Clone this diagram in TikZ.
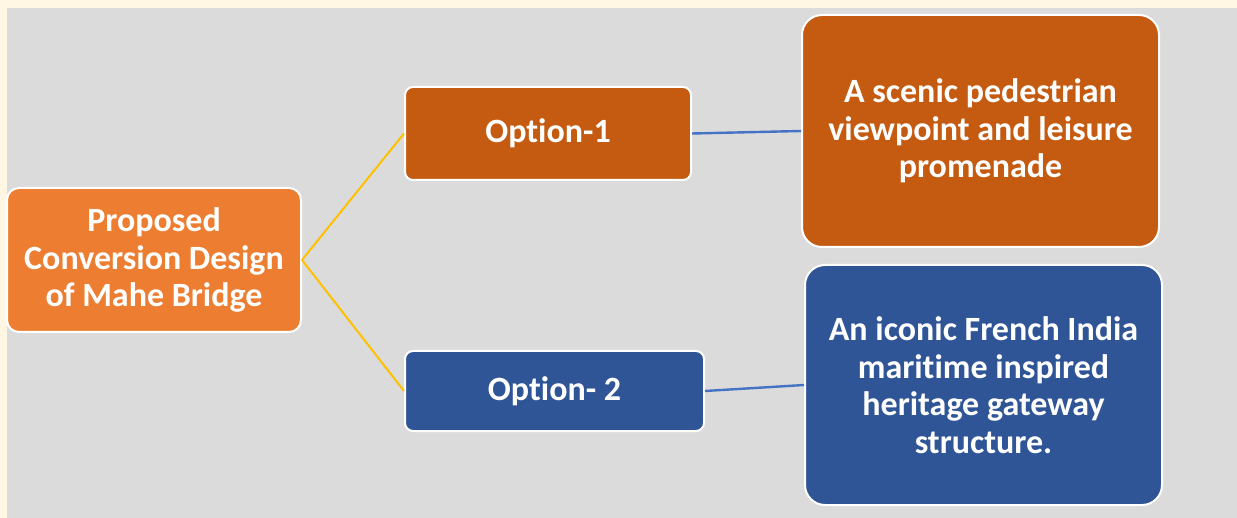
\documentclass[tikz,border=0pt]{standalone}
\usepackage{fontspec}
\setmainfont{Carlito}[Ligatures=NoCommon]
\definecolor{cream}{HTML}{FFF6E3}
\definecolor{panel}{HTML}{DBDBDB}
\definecolor{rootorange}{HTML}{ED7D31}
\definecolor{darkorange}{HTML}{C55A11}
\definecolor{darkblue}{HTML}{2F5597}
\definecolor{linkyellow}{HTML}{FFC000}
\definecolor{linkblue}{HTML}{4472C4}
\tikzset{
  card/.style={draw=white, line width=2pt, text=white, align=center,
    font=\fontsize{34}{37.5}\selectfont\bfseries, inner sep=0pt},
  yellowlink/.style={draw=linkyellow, line width=2pt},
  bluelink/.style={draw=linkblue, line width=2.4pt},
}
\begin{document}
\begin{tikzpicture}[x=1pt,y=-1pt]
  % page and grey panel
  \fill[cream] (0,0) rectangle (1237,518);
  \fill[panel] (7,8) rectangle (1237,518);
  \useasboundingbox (0,0) rectangle (1237,518);

  % boxes
  \node[card, fill=rootorange, rounded corners=12pt, minimum width=294pt, minimum height=144pt]
    (root) at (154,260) {Proposed\\Conversion Design\\of Mahe Bridge};
  \node[card, fill=darkorange, rounded corners=8pt, minimum width=286pt, minimum height=93pt]
    (opt1) at (548,133.5) {Option-1};
  \node[card, fill=darkblue, rounded corners=8pt, minimum width=299pt, minimum height=80pt]
    (opt2) at (554.5,391) {Option- 2};
  \node[card, fill=darkorange, rounded corners=20pt, minimum width=357pt, minimum height=232pt]
    (scenic) at (980.5,131) {A scenic pedestrian\\viewpoint and leisure\\promenade};
  \node[card, fill=darkblue, rounded corners=20pt, minimum width=357pt, minimum height=240pt]
    (iconic) at (983.5,385) {An iconic French India\\maritime inspired\\heritage gateway\\structure.};

  % connectors
  \draw[yellowlink] (root.east) -- (opt1.west);
  \draw[yellowlink] (root.east) -- (opt2.west);
  \draw[bluelink] (opt1.east) -- (scenic.west);
  \draw[bluelink] (opt2.east) -- (iconic.west);
\end{tikzpicture}
\end{document}
